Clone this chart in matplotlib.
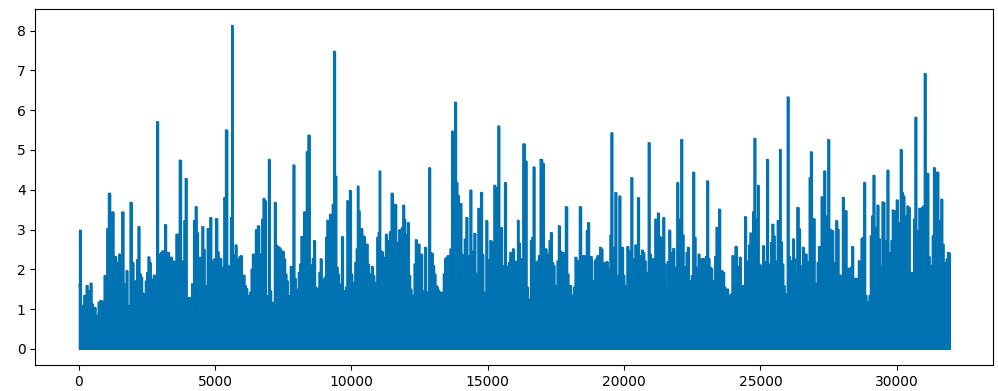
import matplotlib
matplotlib.use("Agg")
import matplotlib.pyplot as plt
import numpy as np

# Upper envelope of the dense signal (sample index, value)
sample_index = [
    0, 49, 98, 171, 195, 244, 293, 342, 390, 439, 488, 537, 586, 634, 683, 732, 805, 854, 903, 951,
    1000, 1049, 1122, 1171, 1244, 1293, 1342, 1391, 1440, 1488, 1537, 1610, 1659, 1708, 1757, 1806,
    1854, 1903, 1976, 2025, 2098, 2147, 2196, 2245, 2293, 2342, 2415, 2464, 2513, 2562, 2611, 2660,
    2708, 2757, 2830, 2879, 2928, 2977, 3026, 3074, 3123, 3172, 3221, 3269, 3343, 3391, 3440, 3489,
    3538, 3587, 3660, 3709,
    3782, 3831, 3879, 3928, 3977, 4050, 4099, 4172, 4245, 4294, 4343, 4392, 4441, 4489, 4538, 4587,
    4636, 4685, 4733, 4782, 4831, 4880, 4929, 4977, 5051, 5099, 5148, 5197, 5246, 5295, 5343, 5417,
    5465, 5539, 5587, 5624, 5661, 5709, 5758, 5807, 5856, 5905, 5953, 6002, 6051, 6100, 6149, 6197,
    6246, 6295, 6344, 6393, 6441, 6515, 6588, 6637, 6685, 6734, 6783, 6832, 6881, 6929, 6978, 7027,
    7076, 7149, 7198, 7247, 7295, 7344, 7393, 7442, 7491, 7539, 7588, 7637, 7686, 7735, 7783, 7832,
    7881, 7930,
    7979, 8027, 8076, 8125, 8174, 8223, 8271, 8320, 8369, 8442, 8491, 8540, 8589, 8637, 8686, 8735,
    8784, 8833, 8881, 8930, 8979, 9028, 9077, 9125, 9174, 9223, 9272, 9321, 9369, 9418, 9467, 9516,
    9565, 9613, 9662, 9711, 9760, 9809, 9857, 9906, 9955, 10004, 10053, 10101, 10150, 10199, 10236,
    10272, 10321, 10370, 10419, 10467, 10516, 10565, 10614, 10663, 10711, 10760, 10809, 10858, 10907,
    10955, 11004, 11029, 11077, 11126, 11175, 11224, 11273, 11321, 11370, 11419, 11492, 11541, 11614,
    11663, 11711, 11760, 11809, 11858, 11907, 11955,
    11980, 12029, 12078, 12127, 12175, 12224, 12273, 12322, 12371, 12419, 12468, 12517, 12566, 12615,
    12663, 12712, 12761, 12810, 12859, 12907, 12956, 13005, 13054, 13103, 13151, 13200, 13249, 13298,
    13347, 13395, 13444, 13493, 13542, 13591, 13639, 13713, 13761, 13810, 13859, 13908, 13957, 14005,
    14054, 14103, 14176, 14225, 14274, 14323, 14371, 14420, 14469, 14518, 14567, 14615, 14664, 14713,
    14762, 14811, 14859, 14908, 14957, 15006, 15055, 15103, 15152, 15201, 15250, 15299, 15347, 15396,
    15445, 15494, 15543, 15591, 15640, 15689, 15738, 15787, 15835, 15884, 15933, 15982,
    16031, 16079, 16104, 16153, 16201, 16250, 16323, 16397, 16445, 16494, 16543, 16592, 16641, 16689,
    16738, 16787, 16836, 16885, 16958, 17031, 17080, 17129, 17177, 17226, 17275, 17324, 17373, 17421,
    17470, 17519, 17568, 17617, 17665, 17714, 17763, 17812, 17885, 17934, 17983, 18031, 18080, 18129,
    18178, 18227, 18275, 18324, 18397, 18446, 18495, 18544, 18593, 18641, 18690, 18739, 18788, 18837,
    18885, 18934, 18983, 19032, 19081, 19129, 19178, 19227, 19276, 19325, 19373, 19422, 19471, 19495,
    19544, 19593, 19642, 19691, 19739, 19788, 19837, 19886, 19935, 19983,
    20032, 20081, 20130, 20179, 20227, 20276, 20325, 20374, 20423, 20471, 20520, 20569, 20618, 20667,
    20715, 20764, 20813, 20862, 20911, 20959, 21008, 21057, 21106, 21155, 21203, 21252, 21301, 21350,
    21399, 21447, 21496, 21545, 21618, 21667, 21716, 21765, 21813, 21862, 21911, 21960, 22009, 22057,
    22106, 22155, 22204, 22253, 22301, 22350, 22399, 22448, 22497, 22545, 22594, 22643, 22692, 22741,
    22789, 22838, 22887, 22960, 23009, 23058, 23107, 23155, 23204, 23253, 23302, 23351, 23399, 23448,
    23497, 23546, 23595, 23643, 23692, 23741, 23790, 23839, 23887, 23936, 23985, 24034,
    24107, 24156, 24205, 24253, 24302, 24351, 24400, 24449, 24497, 24546, 24595, 24644, 24693, 24741,
    24790, 24839, 24888, 24912, 24961, 25010, 25059, 25107, 25156, 25205, 25254, 25303, 25351, 25400,
    25449, 25498, 25547, 25595, 25644, 25693, 25717, 25766, 25815, 25864, 25913, 25961, 26010, 26059,
    26108, 26157, 26205, 26254, 26303, 26376, 26425, 26474, 26523, 26571, 26620, 26669, 26718, 26767,
    26815, 26864, 26913, 26962, 27011, 27059, 27108, 27157, 27206, 27255, 27303, 27352, 27401, 27450,
    27499, 27547, 27596, 27645, 27694, 27743, 27791, 27840, 27889, 27938, 27987, 28035,
    28084, 28133, 28182, 28231, 28279, 28328, 28377, 28426, 28475, 28523, 28572, 28621, 28670, 28719,
    28767, 28816, 28865, 28914, 28963, 29011, 29060, 29109, 29158, 29207, 29255, 29304, 29353, 29402,
    29451, 29475, 29524, 29573, 29621, 29670, 29719, 29768, 29817, 29865, 29914, 29963, 30012, 30061,
    30109, 30158, 30207, 30256, 30305, 30353, 30402, 30451, 30500, 30549, 30597, 30646, 30695, 30744,
    30793, 30841, 30890, 30939, 30988, 31037, 31085, 31134, 31183, 31232, 31281, 31329, 31378, 31427,
    31451, 31500, 31549, 31598, 31646, 31695, 31744, 31793, 31842, 31891, 31950,
]

amplitude = [
    1.60, 2.98, 1.09, 0.50, 1.34, 0.75, 1.59, 1.46, 0.92, 1.65, 1.13, 0.92, 1.04, 0.84, 0.63, 1.17, 1.21, 1.20, 0.92, 1.84,
    1.17, 3.02, 3.91, 2.26, 3.44, 1.38, 2.32, 2.17, 2.02, 2.38, 1.46, 3.44, 1.63, 1.60, 1.96, 1.09,
    0.96, 3.68, 2.17, 1.59, 1.71, 2.24, 3.07, 1.88, 1.80, 1.40, 1.29, 1.70, 1.92, 2.31, 2.17, 1.75,
    1.60, 1.85, 1.60, 5.71, 2.38, 2.36, 2.42, 2.46, 1.92, 3.12, 1.55, 2.42, 2.30, 2.30, 1.34, 2.20,
    2.14, 2.88, 2.88, 4.74,
    2.21, 1.80, 3.22, 4.28, 1.25, 1.29, 0.92, 1.63, 3.22, 3.57, 2.92, 1.09, 2.30, 2.05, 3.07, 2.50,
    1.59, 1.49, 3.02, 2.57, 3.30, 1.09, 2.21, 2.26, 3.27, 2.44, 1.88, 2.27, 1.59, 2.05, 3.80, 5.50,
    2.09, 0.79, 3.30, 8.13, 1.42, 2.36, 2.61, 2.26, 2.09, 2.32, 2.34, 1.84, 1.85, 1.59, 1.52, 0.58,
    1.34, 1.42, 2.00, 2.38, 1.09, 2.99, 3.09, 1.09, 2.38, 3.26, 3.78, 3.72, 1.34, 1.25, 4.76, 1.46,
    1.17, 1.09, 3.68, 2.61, 2.57, 2.55, 2.51, 2.09, 2.45, 2.26, 1.88, 1.71, 1.29, 1.34, 2.07, 1.88,
    4.62, 1.77,
    1.50, 0.96, 1.92, 2.13, 2.82, 1.92, 3.44, 2.05, 4.95, 5.37, 2.11, 1.84, 2.27, 2.72, 1.55, 1.50,
    1.52, 1.92, 2.26, 1.75, 1.55, 1.80, 2.80, 3.23, 2.84, 3.38, 2.72, 3.63, 7.48, 4.34, 2.05, 1.88,
    1.63, 1.59, 2.82, 1.46, 1.38, 1.55, 3.72, 1.34, 3.98, 1.88, 1.55, 1.67, 2.17, 2.51, 4.09,
    3.47, 2.17, 3.02, 2.84, 2.82, 2.02, 2.63, 2.13, 1.88, 1.88, 2.07, 1.85, 1.67, 1.32,
    2.80, 2.92, 4.47, 2.46, 2.44, 2.30, 2.30, 2.88, 0.96, 2.72, 2.94, 3.91, 2.00, 3.63,
    2.21, 2.67, 2.99, 2.99, 3.05, 3.61, 3.26,
    2.88, 2.21, 3.17, 1.85, 1.50, 1.35, 1.34, 2.13, 2.74, 2.46, 2.63, 2.13, 2.38, 1.46,
    1.46, 2.55, 1.44, 1.34, 4.55, 2.42, 2.40, 2.09, 1.88, 1.59, 1.55, 1.46, 1.21, 1.42,
    1.42, 1.88, 2.26, 2.30, 2.34, 2.34, 2.51, 5.47, 1.75, 6.20, 4.18, 3.86, 2.42, 3.65,
    2.38, 1.84, 2.76, 3.30, 2.34, 2.09, 3.99, 2.27, 2.46, 2.90, 1.90, 1.90, 3.53, 3.43,
    3.93, 2.38, 1.42, 1.42, 3.22, 1.75, 2.24, 2.72, 2.69, 2.46, 4.11, 4.05, 1.71, 5.60,
    1.90, 3.05, 2.09, 1.75, 4.18, 2.05, 2.07, 2.17, 2.42, 2.42, 2.51, 1.96,
    2.20, 2.19, 3.23, 2.66, 1.94, 2.26, 5.15, 4.72, 1.55, 1.25, 1.24, 2.72, 2.80, 4.57,
    2.17, 2.05, 2.21, 2.34, 4.76, 4.66, 2.52, 2.51, 2.38, 2.21, 2.72, 2.92, 2.17, 2.09,
    1.21, 1.59, 2.21, 3.09, 2.46, 1.96, 2.42, 2.38, 3.57, 1.88, 1.59, 1.59, 1.35, 1.21,
    1.55, 2.30, 2.13, 2.21, 3.57, 2.17, 2.34, 2.34, 2.30, 2.97, 3.17, 2.32, 2.32, 1.69,
    1.71, 2.21, 2.26, 2.34, 2.30, 2.55, 2.51, 1.25, 2.17, 2.09, 2.19, 2.02, 1.50, 2.86,
    5.43, 1.88, 2.55, 3.93, 1.84, 1.84, 3.84, 1.88, 2.55, 1.85,
    1.59, 1.46, 2.57, 2.46, 2.34, 4.30, 2.26, 1.96, 2.61, 2.46, 3.80, 2.34, 2.24, 2.48,
    2.42, 2.21, 1.25, 1.92, 5.18, 2.38, 2.26, 2.26, 2.26, 3.26, 1.84, 3.41, 2.82, 2.80,
    1.84, 3.30, 2.13, 1.55, 2.19, 2.98, 2.42, 1.21, 2.52, 1.63, 2.05, 4.18, 2.77, 3.26,
    5.26, 2.86, 2.07, 1.84, 2.42, 2.55, 1.69, 1.71, 1.84, 4.44, 2.80, 2.05, 2.00, 2.38,
    2.26, 2.24, 2.27, 2.13, 2.32, 4.22, 2.27, 2.05, 2.02, 1.52, 1.71, 2.32, 3.05, 2.92,
    3.51, 1.96, 1.96, 1.92, 1.55, 1.13, 1.50, 1.27, 1.34, 1.38, 2.34, 1.59,
    2.57, 2.07, 1.63, 2.30, 1.59, 1.59, 1.21, 3.32, 2.19, 2.21, 2.61, 2.91, 1.92, 3.44,
    5.29, 3.26, 1.09, 4.11, 2.13, 2.09, 2.05, 2.59, 2.19, 2.09, 4.76, 2.05, 2.13, 2.67,
    3.13, 2.84, 2.17, 2.21, 3.22, 2.86, 5.01, 2.69, 2.13, 1.59, 1.38, 1.15, 6.33, 2.32,
    2.09, 2.21, 2.76, 2.26, 1.92, 3.55, 3.02, 2.09, 1.55, 2.55, 2.38, 2.38, 2.07, 2.19,
    4.30, 4.95, 2.26, 3.27, 1.63, 1.65, 2.17, 2.57, 1.50, 3.82, 3.34, 4.47, 3.34, 3.26,
    5.26, 3.01, 1.92, 2.97, 2.17, 1.88, 3.22, 3.01, 1.84, 1.85, 1.75, 3.80,
    3.44, 3.47, 1.92, 2.02, 2.02, 2.05, 2.57, 1.21, 1.77, 1.77, 1.21, 2.21, 1.67, 2.77,
    2.80, 4.18, 1.34, 1.19, 1.17, 1.34, 2.84, 3.34, 4.36, 1.67, 3.05, 3.61, 2.77, 2.05,
    2.07, 3.69, 3.68, 2.72, 2.72, 4.49, 2.42, 2.42, 2.72, 3.49, 3.47, 3.34, 3.74, 3.17,
    2.26, 5.01, 3.93, 3.84, 3.34, 1.25, 3.59, 3.55, 1.59, 1.92, 1.55, 3.26, 5.82, 2.97,
    2.88, 3.53, 2.51, 3.55, 3.59, 6.92, 3.22, 4.41, 2.32, 2.09, 2.07, 2.84, 4.55, 4.43,
    1.80, 4.44, 3.22, 3.22, 3.76, 2.63, 2.13, 2.17, 2.26, 2.42, 2.40,
]

x_ticks = [0, 5000, 10000, 15000, 20000, 25000, 30000]
y_ticks = [0, 1, 2, 3, 4, 5, 6, 7, 8]

color = "#0173B2"

fig = plt.figure(figsize=(9.98, 3.91), dpi=100)
ax = fig.add_axes([0.0354, 0.0665, 0.9600, 0.9097])

x = np.asarray(sample_index, dtype=float)
y = np.asarray(amplitude, dtype=float)

ax.fill_between(x, 0, y, step="mid", color=color, linewidth=1.0, edgecolor=color)
ax.plot(x, y, color=color, linewidth=1.0, drawstyle="steps-mid")

ax.set_xticks(x_ticks)
ax.set_yticks(y_ticks)
ax.margins(x=0.05, y=0.05)

fig.savefig("out.png", dpi=100)
